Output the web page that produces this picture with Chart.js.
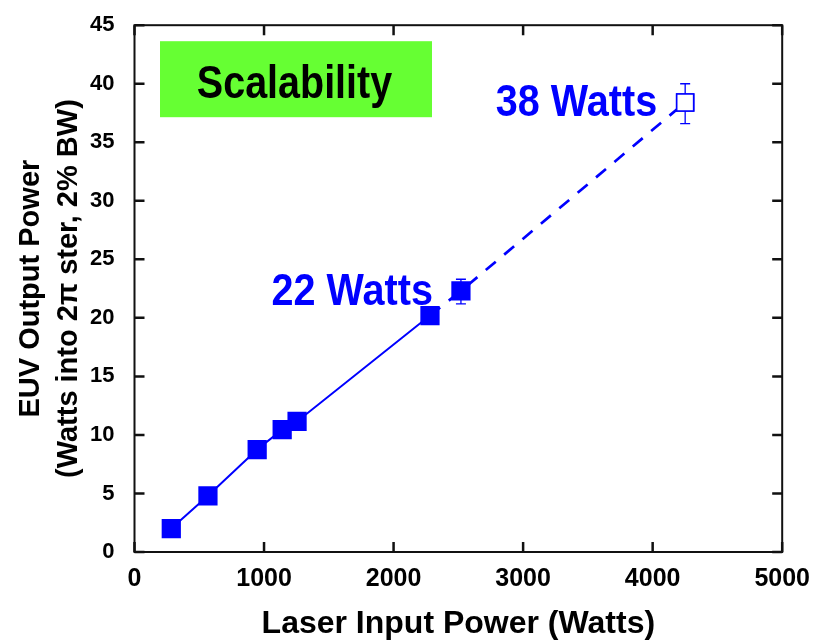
<!DOCTYPE html>
<html>
<head>
<meta charset="utf-8">
<script src="https://cdn.jsdelivr.net/npm/chart.js@4"></script>
<style>
  html, body { margin: 0; padding: 0; background: #fff; }
  #wrap { width: 814px; height: 640px; }
</style>
</head>
<body>
<div id="wrap"><canvas id="euv-chart"></canvas></div>
<script>
// Measured points (filled squares)
const measuredX = [284, 567, 947, 1140, 1255, 2281, 2520];
const measuredY = [2.0, 4.8, 8.75, 10.45, 11.15, 20.2, 22.3];
// Projected point (open square)
const projectedX = [4251];
const projectedY = [38.4];
// Error bars
const errorX = [2520, 4251];
const errorLow = [21.2, 36.6];
const errorHigh = [23.3, 40.0];
// Annotations next to the points
const noteX = [2520, 4251];
const noteY = [22.3, 38.4];
const noteText = ['22 Watts', '38 Watts'];
const boxText = 'Scalability';
// Axis ticks
const xTicks = [0, 1000, 2000, 3000, 4000, 5000];
const yTicks = [0, 5, 10, 15, 20, 25, 30, 35, 40, 45];

const BLUE = '#0000ff';
const FONT = "'Liberation Sans', Arial, sans-serif";

const toPts = (xs, ys) => xs.map((x, i) => ({ x: x, y: ys[i] }));

// solid line through the first six points, dashed from there to the projection
const solidPts = toPts(measuredX.slice(0, 6), measuredY.slice(0, 6));
const dashedPts = toPts(measuredX.slice(5).concat(projectedX), measuredY.slice(5).concat(projectedY));

// condensed text: squeeze horizontally around the anchor point
function narrowText(ctx, text, x, y, sx) {
    ctx.save();
    ctx.translate(x, y);
    ctx.scale(sx, 1);
    ctx.fillText(text, 0, 0);
    ctx.restore();
}

// Draws the frame, inward ticks, error bars and the labels
const decorations = {
    id: 'decorations',
    afterDatasetsDraw(chart) {
        const ctx = chart.ctx;
        const xs = chart.scales.x, ys = chart.scales.y;
        ctx.save();
        ctx.strokeStyle = BLUE;
        ctx.lineWidth = 1.3;
        errorX.forEach((x, i) => {
            const px = xs.getPixelForValue(x);
            const lo = ys.getPixelForValue(errorLow[i]);
            const hi = ys.getPixelForValue(errorHigh[i]);
            ctx.beginPath();
            ctx.moveTo(px, lo); ctx.lineTo(px, hi);
            ctx.moveTo(px - 5, lo); ctx.lineTo(px + 5, lo);
            ctx.moveTo(px - 5, hi); ctx.lineTo(px + 5, hi);
            ctx.stroke();
        });
        ctx.restore();
        // redraw the open marker over its error bar
        chart.getDatasetMeta(3).data.forEach(el => el.draw(ctx, chart.chartArea));
    },
    afterDraw(chart) {
        const ctx = chart.ctx;
        const a = chart.chartArea;
        const xs = chart.scales.x, ys = chart.scales.y;
        ctx.save();
        // frame
        ctx.strokeStyle = '#111';
        ctx.lineWidth = 2;
        ctx.strokeRect(a.left, a.top, a.right - a.left, a.bottom - a.top);
        // inward ticks on all four sides
        ctx.lineWidth = 2.5;
        ctx.beginPath();
        xTicks.forEach(v => {
            const p = xs.getPixelForValue(v);
            ctx.moveTo(p, a.bottom); ctx.lineTo(p, a.bottom - 10);
            ctx.moveTo(p, a.top); ctx.lineTo(p, a.top + 10);
        });
        yTicks.forEach(v => {
            const p = ys.getPixelForValue(v);
            ctx.moveTo(a.left, p); ctx.lineTo(a.left + 10, p);
            ctx.moveTo(a.right, p); ctx.lineTo(a.right - 10, p);
        });
        ctx.stroke();

        // green "Scalability" box
        ctx.fillStyle = '#66ff33';
        ctx.fillRect(a.left + 25.5, a.top + 16, 272, 76);
        ctx.fillStyle = '#000';
        ctx.font = 'bold 47px ' + FONT;
        ctx.textAlign = 'center';
        ctx.textBaseline = 'alphabetic';
        narrowText(ctx, boxText, a.left + 160, a.top + 73, 0.84);

        // blue watt labels, right aligned left of their point
        ctx.fillStyle = BLUE;
        ctx.font = 'bold 45px ' + FONT;
        ctx.textAlign = 'right';
        noteText.forEach((t, i) => {
            const px = xs.getPixelForValue(noteX[i]);
            const py = ys.getPixelForValue(noteY[i]);
            narrowText(ctx, t, px - 28, py + 14, 0.88);
        });
        ctx.restore();
    }
};

const ctx = document.getElementById('euv-chart').getContext('2d');
new Chart(ctx, {
    type: 'scatter',
    data: {
        datasets: [
            {
                data: solidPts,
                showLine: true,
                borderColor: BLUE,
                borderWidth: 2,
                pointRadius: 0
            },
            {
                data: dashedPts,
                showLine: true,
                borderColor: BLUE,
                borderWidth: 2.7,
                borderDash: [13, 11],
                pointRadius: 0
            },
            {
                data: toPts(measuredX, measuredY),
                pointStyle: 'rect',
                pointRadius: 13.6,
                pointBackgroundColor: BLUE,
                pointBorderColor: BLUE,
                pointBorderWidth: 0
            },
            {
                data: toPts(projectedX, projectedY),
                pointStyle: 'rect',
                pointRadius: 12,
                pointBackgroundColor: '#fff',
                pointBorderColor: BLUE,
                pointBorderWidth: 1.6
            }
        ]
    },
    options: {
        responsive: true,
        maintainAspectRatio: false,
        animation: false,
        layout: { padding: { top: 6, right: 0, left: 0, bottom: 0 } },
        plugins: {
            legend: { display: false },
            tooltip: { enabled: false }
        },
        scales: {
            x: {
                type: 'linear',
                min: 0,
                max: 5000,
                afterBuildTicks: scale => { scale.ticks = xTicks.map(v => ({ value: v })); },
                afterFit: scale => { scale.height = 88; },
                grid: { display: false },
                border: { display: false },
                ticks: {
                    color: '#000',
                    padding: 4,
                    maxRotation: 0,
                    callback: v => String(v),
                    font: { family: FONT, size: 25, weight: 'bold' }
                },
                title: {
                    display: true,
                    text: 'Laser Input Power (Watts)',
                    color: '#000',
                    padding: { top: 0, bottom: -3 },
                    font: { family: FONT, size: 32, weight: 'bold' }
                }
            },
            y: {
                type: 'linear',
                min: 0,
                max: 45,
                afterBuildTicks: scale => { scale.ticks = yTicks.map(v => ({ value: v })); },
                afterFit: scale => { scale.width = 134.5; },
                grid: { display: false },
                border: { display: false },
                ticks: {
                    color: '#000',
                    padding: 12,
                    font: { family: FONT, size: 22, weight: 'bold' }
                },
                title: {
                    display: true,
                    text: ['EUV Output Power', '(Watts into 2\u03c0 ster, 2% BW)'],
                    color: '#000',
                    padding: { top: 12, bottom: 0 },
                    font: { family: FONT, size: 29, weight: 'bold', lineHeight: 1.3 }
                }
            }
        }
    },
    plugins: [decorations]
});
</script>
</body>
</html>
